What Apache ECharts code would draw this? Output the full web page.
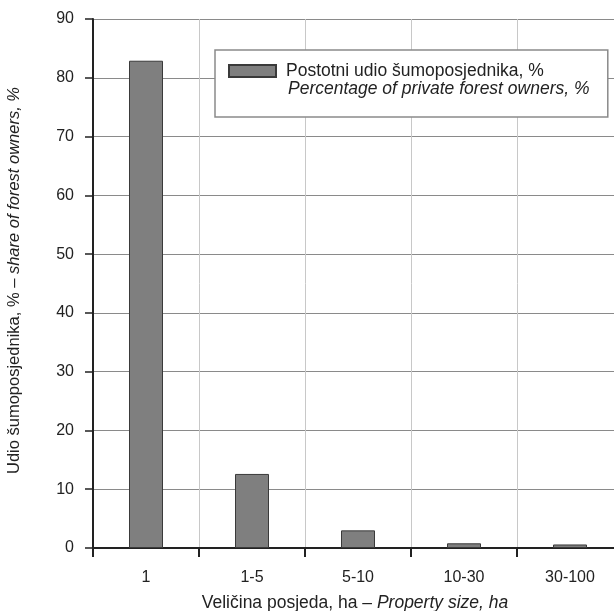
<!DOCTYPE html>
<html><head><meta charset="utf-8">
<script src="https://cdn.jsdelivr.net/npm/echarts@6/dist/echarts.min.js"></script>
<style>html,body{margin:0;padding:0;background:#fff}#c{width:614px;height:611px}</style>
</head><body><div id="c"></div>
<script>
const categories = ['1', '1-5', '5-10', '10-30', '30-100'];
const shareValues = [82.9, 12.6, 3.0, 0.8, 0.6];
const yTicks = [0, 10, 20, 30, 40, 50, 60, 70, 80, 90];
const legendLine1 = 'Postotni udio šumoposjednika, %';
const legendLine2 = 'Percentage of private forest owners, %';

const FONT = 'Liberation Sans, Arial, sans-serif';
const chart = echarts.init(document.getElementById('c'));
chart.setOption({
  animation: false,
  backgroundColor: '#fff',
  textStyle: { fontFamily: FONT },
  grid: { left: 93, right: -9, top: 19, bottom: 63, containLabel: false, outerBoundsMode: 'none' },
  legend: {
    show: true,
    left: 215, top: 50,
    orient: 'vertical',
    backgroundColor: '#fff',
    borderColor: '#8a8a8a',
    borderWidth: 1.5,
    borderRadius: 0,
    padding: [12, 64, 37, 13],
    itemWidth: 47, itemHeight: 12,
    itemGap: 0,
    data: [{ name: 'share', icon: 'rect' }],
    formatter: function () { return '{a|' + legendLine1 + '}'; },
    textStyle: {
      fontFamily: FONT,
      color: '#222',
      rich: {
        a: { fontSize: 17.5, fontFamily: FONT, color: '#222', lineHeight: 20, padding: [0, 0, 0, 5] }
      }
    }
  },
  graphic: [{
    type: 'text',
    left: 288, top: 80,
    z: 100,
    style: {
      text: legendLine2,
      font: 'italic 17.5px ' + FONT,
      fill: '#222'
    }
  }],
  xAxis: {
    type: 'category',
    data: categories,
    boundaryGap: true,
    axisLine: { lineStyle: { color: '#222', width: 2 } },
    axisTick: { show: true, length: 9, lineStyle: { color: '#222', width: 2 } },
    axisLabel: { color: '#222', fontSize: 16, margin: 22, fontFamily: FONT },
    splitLine: { show: true, lineStyle: { color: '#c8c8c8', width: 1 } },
    name: '{a|Veličina posjeda, ha – }{b|Property size, ha}',
    nameLocation: 'middle',
    nameGap: 46,
    nameTextStyle: {
      padding: [0, 6, 0, 0],
      rich: {
        a: { fontSize: 17.5, fontFamily: FONT, color: '#222' },
        b: { fontSize: 17.5, fontFamily: FONT, color: '#222', fontStyle: 'italic' }
      }
    }
  },
  yAxis: {
    type: 'value',
    min: 0, max: 90, interval: 10,
    axisLine: { show: true, lineStyle: { color: '#222', width: 2 } },
    axisTick: { show: true, length: 8, lineStyle: { color: '#222', width: 1.5 } },
    axisLabel: {
      color: '#222', fontSize: 16, margin: 19, fontFamily: FONT,
      formatter: v => yTicks.includes(v) ? String(v) : ''
    },
    splitLine: { show: true, lineStyle: { color: '#8a8a8a', width: 1.2 } },
    name: '{a|Udio šumoposjednika, % – }{b|share of forest owners, %}',
    nameLocation: 'middle',
    nameGap: 70,
    nameTextStyle: {
      padding: [0, 0, 0, 6],
      rich: {
        a: { fontSize: 16.5, fontFamily: FONT, color: '#222' },
        b: { fontSize: 16.5, fontFamily: FONT, color: '#222', fontStyle: 'italic' }
      }
    }
  },
  series: [{
    name: 'share',
    type: 'bar',
    data: shareValues,
    barWidth: 34,
    itemStyle: { color: '#7f7f7f', borderColor: '#3a3a3a', borderWidth: 1 }
  }]
});
</script></body></html>
